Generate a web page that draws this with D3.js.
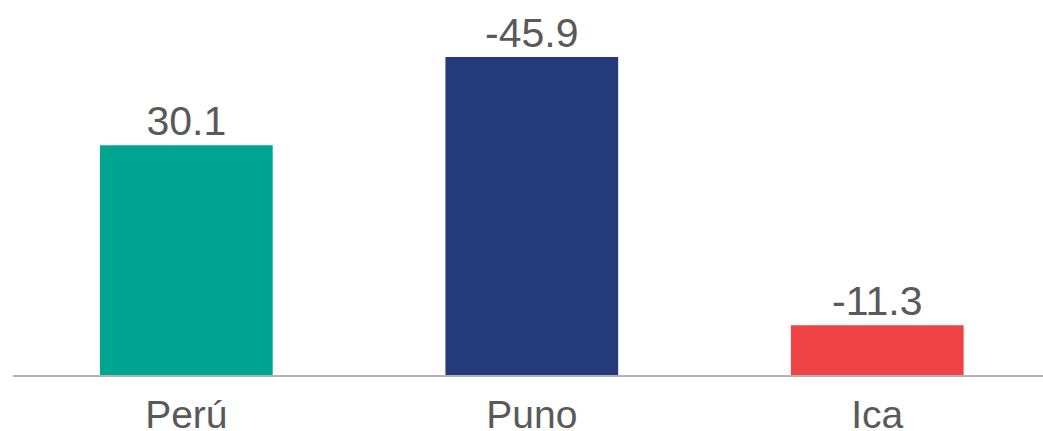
<!DOCTYPE html>
<html>
<head>
<meta charset="utf-8">
<script src="https://cdn.jsdelivr.net/npm/d3@7"></script>
<style>
  body { margin: 0; background: #fff; }
  text { font-family: "Liberation Sans", Arial, sans-serif; fill: #595959; }
</style>
</head>
<body>
<svg></svg>
<script>
// Data
const categories = ["Perú", "Puno", "Ica"];
const labels = ["30.1", "-45.9", "-11.3"];
// bar lengths as drawn (not proportional to the printed labels)
const barValues = [33.2, 45.9, 7.3];
const colors = ["#00a591", "#253a7a", "#ef4346"];

const width = 1043, height = 431;
const baseline = 376;

const svg = d3.select("svg").attr("width", width).attr("height", height);

// Scales
const xScale = d3.scaleBand()
    .domain(categories)
    .range([13.6, 1050])
    .paddingInner(0.5)
    .paddingOuter(0.25);
const yScale = d3.scaleLinear().domain([0, 50]).range([baseline, 28.5]);

// Bars
svg.selectAll(".bar")
    .data(categories)
    .enter().append("rect")
    .attr("class", "bar")
    .attr("x", d => xScale(d))
    .attr("y", (d, i) => yScale(barValues[i]))
    .attr("width", xScale.bandwidth())
    .attr("height", (d, i) => baseline - yScale(barValues[i]))
    .style("fill", (d, i) => colors[i]);

// Baseline
svg.append("line")
    .attr("x1", 13).attr("x2", width)
    .attr("y1", baseline).attr("y2", baseline)
    .style("stroke", "#b3b3b3")
    .style("stroke-width", 2);

// Value labels
svg.selectAll(".value")
    .data(categories)
    .enter().append("text")
    .attr("class", "value")
    .attr("x", d => xScale(d) + xScale.bandwidth() / 2)
    .attr("y", (d, i) => yScale(barValues[i]) - 10)
    .attr("text-anchor", "middle")
    .style("font-size", "41px")
    .text((d, i) => labels[i]);

// Category labels
const xAxis = svg.append("g")
    .attr("transform", `translate(0,${baseline})`)
    .call(d3.axisBottom(xScale).tickSize(0).tickPadding(0));
xAxis.select(".domain").remove();
xAxis.selectAll("text")
    .attr("dy", null)
    .attr("y", 52)
    .style("font-size", "39px")
    .style("font-family", "'Liberation Sans', Arial, sans-serif")
    .style("fill", "#595959");
</script>
</body>
</html>
